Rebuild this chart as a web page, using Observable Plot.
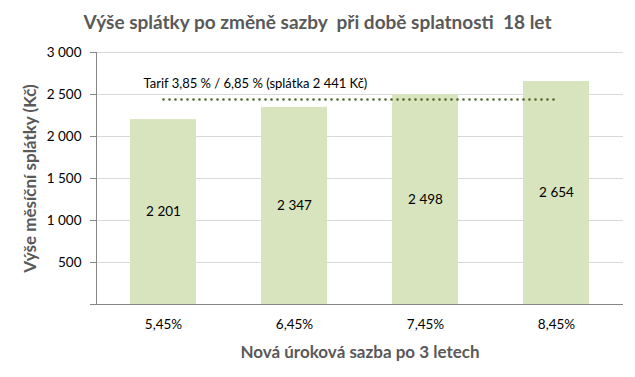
<!DOCTYPE html>
<html><head><meta charset="utf-8">
<script src="https://cdn.jsdelivr.net/npm/d3@7"></script>
<script src="https://cdn.jsdelivr.net/npm/@observablehq/plot@0.6"></script>
<style>
body{margin:0;background:#fff;font-family:Lato,sans-serif;}
#title{height:40px;line-height:44px;text-align:center;font-weight:bold;font-size:19px;color:#595959;white-space:pre;}
</style></head>
<body>
<div id="title">Výše splátky po změně sazby  při době splatnosti  18 let</div>
<div id="chart"></div>
<script>
const categories = ["5,45%", "6,45%", "7,45%", "8,45%"];
const values = [2201, 2347, 2498, 2654];
const tariffValue = 2441;
const tariffLabel = "Tarif 3,85 % / 6,85 % (splátka 2 441 Kč)";
const yTicks = [0, 500, 1000, 1500, 2000, 2500, 3000];
const yLabel = "Výše měsíční splátky (Kč)";
const xLabel = "Nová úroková sazba po 3 letech";

const data = categories.map((c, i) => ({cat: c, value: values[i]}));
const fmt = v => v === 0 ? "" : d3.format(",")(v).replace(/,/g, " ");

const chart = Plot.plot({
  width: 635, height: 337,
  marginLeft: 96, marginRight: 12, marginTop: 12, marginBottom: 73,
  style: {fontFamily: "Lato, sans-serif", fontSize: "13px", color: "#000"},
  x: {domain: categories, paddingInner: 0.5, paddingOuter: 0.25, label: null},
  y: {domain: [0, 3000], label: null},
  marks: [
    Plot.ruleY(yTicks.filter(d => d > 0), {stroke: "#d9d9d9", strokeWidth: 1}),
    Plot.barY(data, {x: "cat", y: "value", fill: "#d7e4bd"}),
    Plot.axisX({tickSize: 0, tickPadding: 15, fontSize: 13.5, fill: "#000"}),
    Plot.axisY({ticks: yTicks, tickFormat: fmt, tickSize: 6, tickPadding: 9, stroke: "#868686", fill: "#000", fontSize: 13.5, label: null}),
    Plot.frame({anchor: "left", stroke: "#868686"}),
    Plot.ruleY([0], {stroke: "#868686"}),
    Plot.text(data, {x: "cat", y: d => d.value / 2, text: d => fmt(d.value), fill: "#000", fontSize: 13.5}),
    Plot.line(categories, {x: d => d, y: () => tariffValue, stroke: "#4f6228", strokeWidth: 2.6, strokeDasharray: "0 6", strokeLinecap: "round"}),
    Plot.text([tariffLabel], {x: () => categories[0], y: () => tariffValue, text: d => d, textAnchor: "start", dx: -20, dy: -16, fill: "#000", fontSize: 13}),
    Plot.text([yLabel], {frameAnchor: "left", textAnchor: "middle", lineAnchor: "middle", rotate: -90, dx: -66, text: d => d, fontWeight: "bold", fontSize: 17, fill: "#595959"}),
    Plot.text([xLabel], {frameAnchor: "bottom", textAnchor: "middle", dy: 48, lineAnchor: "middle", text: d => d, fontWeight: "bold", fontSize: 17, fill: "#595959"})
  ]
});
document.getElementById("chart").appendChild(chart);
</script>
</body></html>
